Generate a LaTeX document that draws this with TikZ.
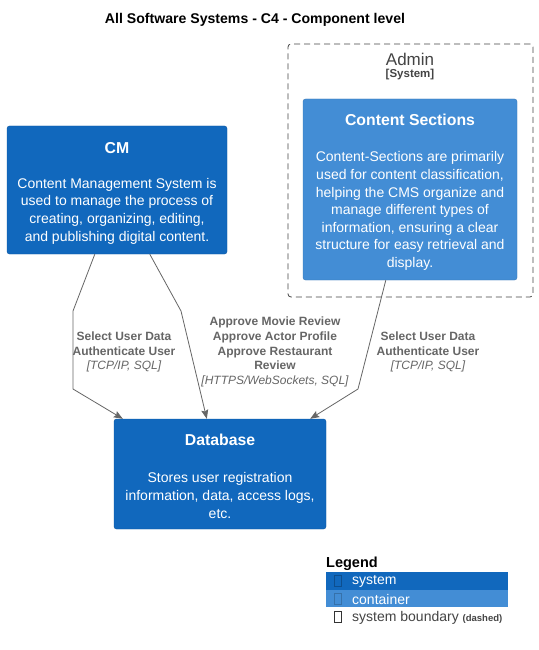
\documentclass[tikz,border=0pt]{standalone}
\usepackage{fontspec}
\setmainfont{Liberation Sans}
\usetikzlibrary{arrows.meta,calc}
\definecolor{sysblue}{HTML}{1168BD}
\definecolor{contblue}{HTML}{438DD5}
\definecolor{lblgray}{HTML}{666666}
\definecolor{bndgray}{HTML}{444444}
\tikzset{
  boxbase/.style={rounded corners=2.5pt, inner sep=0pt},
  sysbox/.style={boxbase, fill=sysblue, draw=sysblue!85!black, line width=0.4pt},
  contbox/.style={boxbase, fill=contblue, draw=contblue!85!black, line width=0.4pt},
  bnd/.style={rounded corners=3pt, draw=bndgray, dash pattern=on 6pt off 4pt, line width=0.8pt, inner sep=0pt},
  ttl/.style={text=white, font=\fontsize{15.8}{18}\selectfont\bfseries, inner sep=0pt},
  desc/.style={text=white, font=\fontsize{14}{17.6}\selectfont, align=center, inner sep=0pt},
  lbl/.style={text=lblgray, font=\fontsize{12}{14.6}\selectfont\bfseries, align=center, inner sep=0pt},
  arr/.style={draw=lblgray, line width=0.8pt, -{Stealth[length=9pt,width=7pt,inset=1.5pt]}},
  glyph/.style={draw, line width=0.5pt, minimum width=7pt, minimum height=11pt, inner sep=0pt}
}
\begin{document}
\begin{tikzpicture}[x=1pt,y=-1pt]
\useasboundingbox[fill=white] (0,0) rectangle (538,650);
\node[font=\fontsize{14.1}{16}\selectfont\bfseries, inner sep=0pt] (title) at (255,20) {All Software Systems - C4 - Component level};

% Admin boundary
\node[bnd, minimum width=245pt, minimum height=253pt] (admin) at (410.5,170.5) {};
\node[text=bndgray, font=\fontsize{17}{19}\selectfont, inner sep=0pt] (admint) at (410,59) {Admin};
\node[text=bndgray, font=\fontsize{11.5}{13}\selectfont\bfseries, inner sep=0pt] (admins) at (410,75) {[System]};

% CM
\node[sysbox, minimum width=220pt, minimum height=128pt] (cm) at (117,190) {};
\node[ttl] (cmt) at (117,148) {CM};
\node[desc] (cmd) at (117,211) {Content Management System is\\used to manage the process of\\creating, organizing, editing,\\and publishing digital content.};

% Content Sections
\node[contbox, minimum width=214pt, minimum height=181pt] (cs) at (410,189.5) {};
\node[ttl] (cst) at (410,120) {Content Sections};
\node[desc] (csd) at (410,211) {Content-Sections are primarily\\used for content classification,\\helping the CMS organize and\\manage different types of\\information, ensuring a clear\\structure for easy retrieval and\\display.};

% Database
\node[sysbox, minimum width=212pt, minimum height=110pt] (db) at (220,474) {};
\node[ttl] (dbt) at (220,440) {Database};
\node[desc] (dbd) at (220,495.5) {Stores user registration\\information, data, access logs,\\etc.};

% connectors
\draw[arr] ([xshift=88pt]cm.south west) -- (73,311) -- (73,389) -- ([xshift=9pt]db.north west);
\draw[arr] ([xshift=143pt]cm.south west) -- (181,311) -- ([xshift=93pt]db.north west);
\draw[arr] ([xshift=83pt]cs.south west) -- (358,389) -- ([xshift=-16pt]db.north east);

% labels
\node[lbl] (l1) at (124,352) {Select User Data\\Authenticate User\\\normalfont\itshape [TCP/IP, SQL]};
\node[lbl] (l2) at (275,352) {Approve Movie Review\\Approve Actor Profile\\Approve Restaurant\\Review\\\normalfont\itshape [HTTPS/WebSockets, SQL]};
\node[lbl] (l3) at (428,352) {Select User Data\\Authenticate User\\\normalfont\itshape [TCP/IP, SQL]};

% legend
\node[anchor=west, font=\fontsize{14.5}{16}\selectfont\bfseries, inner sep=0pt] (leg) at (326,564) {Legend};
\node[fill=sysblue, minimum width=182pt, minimum height=18pt, inner sep=0pt, anchor=north west] (lsys) at (326,572) {};
\node[fill=contblue, minimum width=182pt, minimum height=17pt, inner sep=0pt, anchor=north west] (lcont) at (326,590) {};
\node[glyph, draw=sysblue!75!black] (g1) at (338,581) {};
\node[glyph, draw=contblue!80!black] (g2) at (338,598.5) {};
\node[glyph, draw=black!80] (g3) at (338,617) {};
\node[anchor=west, text=white, font=\fontsize{14}{16}\selectfont, inner sep=0pt] (tsys) at (352,581.5) {system};
\node[anchor=west, text=white, font=\fontsize{14}{16}\selectfont, inner sep=0pt] (tcont) at (352,599) {container};
\node[anchor=west, text=bndgray, font=\fontsize{14}{16}\selectfont, inner sep=0pt] (tbnd) at (352,617.5) {system boundary \fontsize{9.5}{11}\selectfont\bfseries(dashed)};
\end{tikzpicture}
\end{document}
